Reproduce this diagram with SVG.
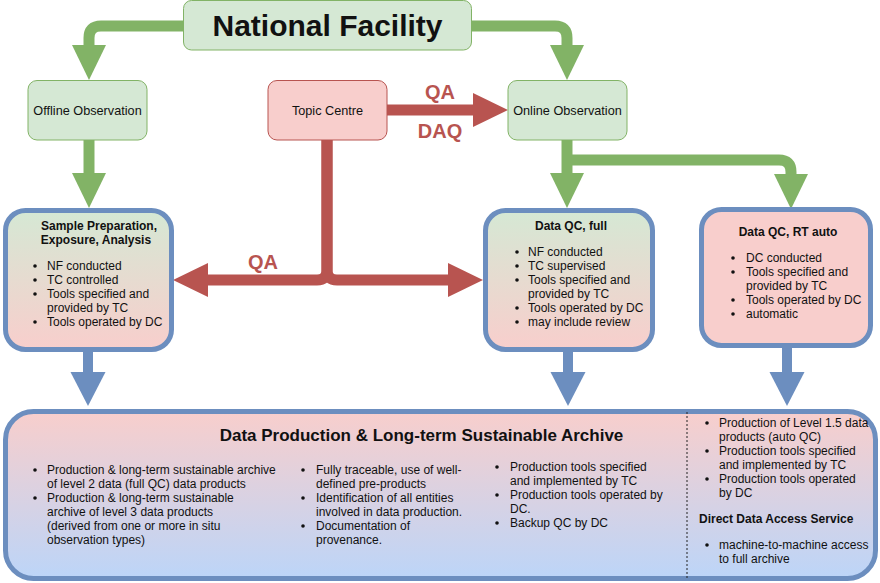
<svg xmlns="http://www.w3.org/2000/svg" width="880" height="583" viewBox="0 0 880 583">
<style>
text{font-family:"Liberation Sans",Arial,sans-serif;fill:#111}
.t12{font-size:12px}
.b12{font-size:12px;font-weight:bold}
.lbl{font-size:12.7px}
.qa{font-size:20px;font-weight:bold;fill:#b85450}
.g{fill:none;stroke:#82b366;stroke-width:11}
.r{fill:none;stroke:#b85450;stroke-width:11}
.bl{fill:none;stroke:#6c8ebf;stroke-width:10}
.gbox{fill:#d5e8d4;stroke:#82b366;stroke-width:1}
.rbox{fill:#f8cecc;stroke:#b85450;stroke-width:1}
.dot{fill:#111}
</style>
<defs>
<linearGradient id="gr" x1="0" y1="0" x2="0" y2="1"><stop offset="0" stop-color="#d5e8d4"/><stop offset="1" stop-color="#f8cecc"/></linearGradient>
<linearGradient id="rb" x1="0" y1="0" x2="0" y2="1"><stop offset="0" stop-color="#f8cecc"/><stop offset="1" stop-color="#bcd5f8"/></linearGradient>
<marker id="mg" markerUnits="userSpaceOnUse" markerWidth="36" markerHeight="36" refX="0" refY="17" orient="auto"><path d="M0,0 L35,17 L0,34 z" fill="#82b366"/></marker>
<marker id="mr" markerUnits="userSpaceOnUse" markerWidth="36" markerHeight="36" refX="0" refY="17" orient="auto"><path d="M0,0 L35,17 L0,34 z" fill="#b85450"/></marker>
<marker id="mb" markerUnits="userSpaceOnUse" markerWidth="36" markerHeight="36" refX="0" refY="17.5" orient="auto"><path d="M0,0 L34,17.5 L0,35 z" fill="#6c8ebf"/></marker>
</defs>

<g id="connectors">
<path class="g" d="M184,26 H101 Q89,26 89,38 V45" marker-end="url(#mg)"/>
<path class="g" d="M471,26 H555 Q567,26 567,38 V45" marker-end="url(#mg)"/>
<path class="g" d="M89,140 V173" marker-end="url(#mg)"/>
<path class="g" d="M567,140 V173" marker-end="url(#mg)"/>
<path class="g" d="M567,160 H779 Q791,160 791,172 V174" marker-end="url(#mg)"/>
<path class="r" d="M387,110 H473" marker-end="url(#mr)"/>
<path class="r" d="M327,140 V270 Q327,280 317,280 H208" marker-end="url(#mr)"/>
<path class="r" d="M327,140 V270 Q327,280 337,280 H448" marker-end="url(#mr)"/>
<path class="bl" d="M88,350 V372" marker-end="url(#mb)"/>
<path class="bl" d="M568,350 V372" marker-end="url(#mb)"/>
<path class="bl" d="M787,346 V372" marker-end="url(#mb)"/>
<text class="qa" x="440" y="99" text-anchor="middle">QA</text>
<text class="qa" x="440" y="138" text-anchor="middle">DAQ</text>
<text class="qa" x="263" y="269" text-anchor="middle">QA</text>
</g>

<g id="national-facility">
<rect class="gbox" x="183.5" y="0.5" width="288" height="49.5" rx="8"/>
<text x="327.5" y="36" text-anchor="middle" style="font-size:30px;font-weight:bold">National Facility</text>
</g>

<g id="offline-observation">
<rect class="gbox" x="28" y="80.5" width="119" height="59.5" rx="9"/>
<text class="lbl" x="87.5" y="114.5" text-anchor="middle">Offline Observation</text>
</g>

<g id="topic-centre">
<rect class="rbox" x="268" y="80.5" width="119" height="59.5" rx="9"/>
<text class="lbl" x="327.5" y="114.5" text-anchor="middle">Topic Centre</text>
</g>

<g id="online-observation">
<rect class="gbox" x="508" y="80.5" width="119" height="59.5" rx="9"/>
<text class="lbl" x="567.5" y="114.5" text-anchor="middle">Online Observation</text>
</g>

<g id="sample-preparation">
<rect x="5.5" y="210.5" width="166" height="139" rx="20" fill="url(#gr)" stroke="#6c8ebf" stroke-width="5"/>
<text class="b12" x="99" y="230" text-anchor="middle">Sample Preparation,</text>
<text class="b12" x="96" y="244" text-anchor="middle">Exposure, Analysis</text>
<circle class="dot" cx="35" cy="266" r="1.8"/><text class="t12" x="47" y="270">NF conducted</text>
<circle class="dot" cx="35" cy="280" r="1.8"/><text class="t12" x="47" y="284">TC controlled</text>
<circle class="dot" cx="35" cy="294" r="1.8"/><text class="t12" x="47" y="298">Tools specified and</text>
<text class="t12" x="47" y="312">provided by TC</text>
<circle class="dot" cx="35" cy="322" r="1.8"/><text class="t12" x="47" y="326">Tools operated by DC</text>
</g>

<g id="data-qc-full">
<rect x="485.5" y="210.5" width="167" height="139" rx="20" fill="url(#gr)" stroke="#6c8ebf" stroke-width="5"/>
<text class="b12" x="571" y="230" text-anchor="middle">Data QC, full</text>
<circle class="dot" cx="517" cy="252" r="1.8"/><text class="t12" x="528" y="256">NF conducted</text>
<circle class="dot" cx="517" cy="266" r="1.8"/><text class="t12" x="528" y="270">TC supervised</text>
<circle class="dot" cx="517" cy="280" r="1.8"/><text class="t12" x="528" y="284">Tools specified and</text>
<text class="t12" x="528" y="298">provided by TC</text>
<circle class="dot" cx="517" cy="308" r="1.8"/><text class="t12" x="528" y="312">Tools operated by DC</text>
<circle class="dot" cx="517" cy="322" r="1.8"/><text class="t12" x="528" y="326">may include review</text>
</g>

<g id="data-qc-rt-auto">
<rect x="701.5" y="209.5" width="169" height="136" rx="20" fill="#f8cecc" stroke="#6c8ebf" stroke-width="5"/>
<text class="b12" x="788" y="236" text-anchor="middle">Data QC, RT auto</text>
<circle class="dot" cx="733" cy="258" r="1.8"/><text class="t12" x="746" y="262">DC conducted</text>
<circle class="dot" cx="733" cy="272" r="1.8"/><text class="t12" x="746" y="276">Tools specified and</text>
<text class="t12" x="746" y="290">provided by TC</text>
<circle class="dot" cx="733" cy="300" r="1.8"/><text class="t12" x="746" y="304">Tools operated by DC</text>
<circle class="dot" cx="733" cy="314" r="1.8"/><text class="t12" x="746" y="318">automatic</text>
</g>

<g id="archive">
<rect x="5.5" y="411.5" width="870" height="167" rx="28" fill="url(#rb)" stroke="#6c8ebf" stroke-width="5"/>
<line x1="687" y1="412" x2="687" y2="578" stroke="#222" stroke-width="1" stroke-dasharray="2,2"/>
<text x="421.5" y="441" text-anchor="middle" style="font-size:17px;font-weight:bold">Data Production &amp; Long-term Sustainable Archive</text>
<circle class="dot" cx="35" cy="470" r="1.8"/><text class="t12" x="47" y="474">Production &amp; long-term sustainable archive</text>
<text class="t12" x="47" y="488">of level 2 data (full QC) data products</text>
<circle class="dot" cx="35" cy="498" r="1.8"/><text class="t12" x="47" y="502">Production &amp; long-term sustainable</text>
<text class="t12" x="47" y="516">archive of level 3 data products</text>
<text class="t12" x="47" y="530">(derived from one or more in situ</text>
<text class="t12" x="47" y="544">observation types)</text>
<circle class="dot" cx="303" cy="470" r="1.8"/><text class="t12" x="316" y="474">Fully traceable, use of well-</text>
<text class="t12" x="316" y="488">defined pre-products</text>
<circle class="dot" cx="303" cy="498" r="1.8"/><text class="t12" x="316" y="502">Identification of all entities</text>
<text class="t12" x="316" y="516">involved in data production.</text>
<circle class="dot" cx="303" cy="526" r="1.8"/><text class="t12" x="316" y="530">Documentation of</text>
<text class="t12" x="316" y="544">provenance.</text>
<circle class="dot" cx="497" cy="467" r="1.8"/><text class="t12" x="510" y="471">Production tools specified</text>
<text class="t12" x="510" y="485">and implemented by TC</text>
<circle class="dot" cx="497" cy="495" r="1.8"/><text class="t12" x="510" y="499">Production tools operated by</text>
<text class="t12" x="510" y="513">DC.</text>
<circle class="dot" cx="497" cy="523" r="1.8"/><text class="t12" x="510" y="527">Backup QC by DC</text>
<circle class="dot" cx="707" cy="423" r="1.8"/><text class="t12" x="719" y="427">Production of Level 1.5 data</text>
<text class="t12" x="719" y="441">products (auto QC)</text>
<circle class="dot" cx="707" cy="451" r="1.8"/><text class="t12" x="719" y="455">Production tools specified</text>
<text class="t12" x="719" y="469">and implemented by TC</text>
<circle class="dot" cx="707" cy="479" r="1.8"/><text class="t12" x="719" y="483">Production tools operated</text>
<text class="t12" x="719" y="497">by DC</text>
<text class="b12" x="699" y="523">Direct Data Access Service</text>
<circle class="dot" cx="707" cy="545" r="1.8"/><text class="t12" x="719" y="549">machine-to-machine access</text>
<text class="t12" x="719" y="563">to full archive</text>
</g>
</svg>
